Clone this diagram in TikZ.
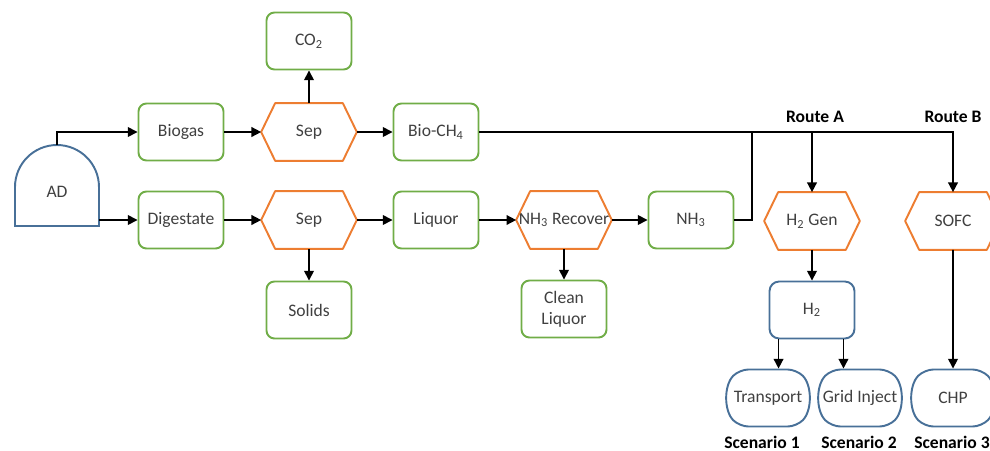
\documentclass[tikz,border=0pt]{standalone}
\usepackage{fontspec}
\setmainfont{Carlito}
\usetikzlibrary{shapes.misc, arrows.meta, positioning}
\definecolor{boxgreen}{RGB}{112,173,71}
\definecolor{seporange}{RGB}{237,125,49}
\definecolor{unitblue}{RGB}{72,112,152}
\definecolor{txtgray}{RGB}{64,64,64}
% hexagon outline round a separation node
\newcommand{\drawsep}[1]{%
  \draw[sepline] ([xshift=0.28cm]#1.north west) -- ([xshift=-0.28cm]#1.north east) -- (#1.east)
    -- ([xshift=-0.28cm]#1.south east) -- ([xshift=0.28cm]#1.south west) -- (#1.west) -- cycle;}

\begin{document}
\begin{tikzpicture}[
  x=0.02cm, y=-0.02cm,
  font=\fontsize{10}{12}\selectfont, text=txtgray,
  flow/.style={-{Triangle[length=5.5pt,width=5.5pt]}, line width=0.9pt},
  link/.style={line width=0.9pt},
  prodbox/.style={draw=boxgreen, line width=1.1pt, rounded corners=4.5pt, minimum width=1.7cm, minimum height=1.14cm, align=center},
  sepbox/.style={minimum width=1.9cm, minimum height=1.14cm, inner sep=1pt},
  sepline/.style={draw=seporange, line width=1.1pt, line join=round},
  gasbox/.style={draw=unitblue, line width=1.1pt, rounded corners=5.5pt, minimum width=1.7cm, minimum height=1.14cm},
  usebox/.style={rounded rectangle, rounded rectangle arc length=90, rounded corners=5pt, draw=unitblue, line width=1.1pt, minimum width=1.66cm, minimum height=1.14cm, inner sep=1pt},
  routelbl/.style={font=\fontsize{10}{12}\selectfont\bfseries, text=black},
  scenlbl/.style={font=\fontsize{10}{12}\selectfont\bfseries, text=black}
]
  \useasboundingbox (0,0) rectangle (990,450);

  % digester
  \draw[draw=unitblue, line width=1.1pt] (15,226) -- (15,187) arc[start angle=180, end angle=0, radius=0.84cm] -- (99,226) -- cycle;
  \node (ad) at (57,192) {AD};
  \coordinate (adtop) at (57,145);
  \coordinate (adout) at (99,220);

  % gas line
  \node[prodbox] (biogas) at (181,132) {Biogas};
  \node[sepbox] (gassep) at (309,132) {Sep};
  \node[prodbox] (co2) at (309,41) {CO\textsubscript{2}};
  \node[prodbox] (biomethane) at (436,132) {Bio-CH\textsubscript{4}};

  % digestate line
  \node[prodbox] (digestate) at (181,220) {Digestate};
  \node[sepbox] (solidsep) at (309,220) {Sep};
  \node[prodbox] (solids) at (309,310) {Solids};
  \node[prodbox] (liquor) at (436,220) {Liquor};
  \node[sepbox] (nh3rec) at (564,220) {NH\textsubscript{3} Recover};
  \node[prodbox] (cleanliq) at (564,309) {Clean\\Liquor};
  \node[prodbox] (nh3) at (691,220) {NH\textsubscript{3}};

  % routes
  \node[sepbox] (h2gen) at (812,221) {H\textsubscript{2} Gen};
  \node[sepbox] (sofc) at (953,221) {SOFC};
  \node[gasbox] (h2) at (812,310) {H\textsubscript{2}};
  \node[usebox] (transport) at (768,398) {Transport};
  \node[usebox] (gridinj) at (860,398) {Grid Inject};
  \node[usebox] (chp) at (953,398) {CHP};
  \node[routelbl] (routea) at (815,117) {Route A};
  \node[routelbl] (routeb) at (953,117) {Route B};
  \node[scenlbl] (scen1) at (762,442) {Scenario 1};
  \node[scenlbl] (scen2) at (859,442) {Scenario 2};
  \node[scenlbl] (scen3) at (952,442) {Scenario 3};
  \coordinate (nh3join) at (752,132);

  \drawsep{gassep}
  \drawsep{solidsep}
  \drawsep{nh3rec}
  \drawsep{h2gen}
  \drawsep{sofc}

  % connectors
  \draw[flow] (adtop) |- (biogas);
  \draw[flow] (adout) -- (digestate);
  \draw[flow] (biogas) -- (gassep);
  \draw[flow] (gassep) -- (co2);
  \draw[flow] (gassep) -- (biomethane);
  \draw[flow] (digestate) -- (solidsep);
  \draw[flow] (solidsep) -- (solids);
  \draw[flow] (solidsep) -- (liquor);
  \draw[flow] (liquor) -- (nh3rec);
  \draw[flow] (nh3rec) -- (cleanliq);
  \draw[flow] (nh3rec) -- (nh3);
  \draw[link] (nh3.east) -| (nh3join);
  \draw[flow] (biomethane.east) -| (sofc.north);
  \draw[flow] (h2gen.north |- biomethane.east) -- (h2gen.north);
  \draw[flow] (h2gen) -- (h2);
  \draw[flow] ([xshift=0.2cm]h2.south west) -- ([xshift=0.2cm]h2.south west |- transport.north);
  \draw[flow] ([xshift=-0.24cm]h2.south east) -- ([xshift=-0.24cm]h2.south east |- gridinj.north);
  \draw[flow] (sofc) -- (chp);
\end{tikzpicture}
\end{document}
